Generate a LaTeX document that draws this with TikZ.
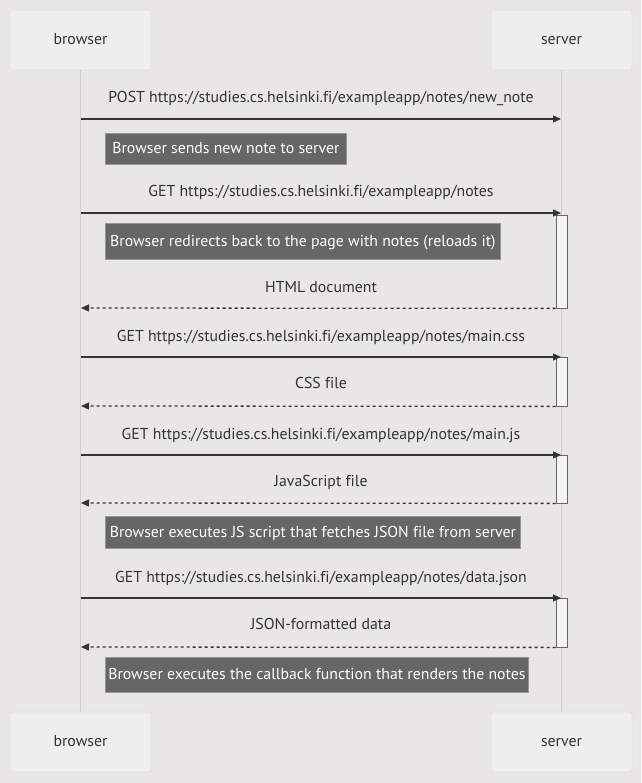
\documentclass[tikz,border=0pt]{standalone}
\usepackage{fontspec}
\setmainfont[Ligatures=NoCommon]{PT Sans}
\usetikzlibrary{arrows.meta}
\definecolor{bg}{RGB}{232,230,230}
\definecolor{actfill}{RGB}{238,238,238}
\definecolor{actline}{RGB}{214,212,212}
\definecolor{lifel}{RGB}{208,206,206}
\definecolor{ink}{RGB}{51,51,51}
\definecolor{notefill}{RGB}{102,102,102}
\definecolor{noteline}{RGB}{150,150,150}
\definecolor{activefill}{RGB}{244,244,244}
\definecolor{activeline}{RGB}{102,102,102}
\newcommand{\dfont}{\fontsize{15.8}{18}\selectfont}
\tikzset{
  actor/.style={draw=actline, fill=actfill, rounded corners=2pt, minimum width=141pt, minimum height=60pt, inner sep=0pt, font=\dfont, text=ink, text height=12.5pt, text depth=3pt},
  lifeline/.style={draw=lifel, line width=1.3pt},
  msg/.style={draw=ink, line width=1.3pt, -{Triangle[length=8pt,width=7pt]}},
  ret/.style={draw=ink, line width=1.3pt, dash pattern=on 3pt off 3pt, -{Triangle[length=8pt,width=7pt]}},
  lbl/.style={font=\dfont, text=ink, inner sep=0pt, text height=12.5pt, text depth=3pt},
  notebox/.style={draw=noteline, fill=notefill, line width=0.8pt, inner sep=0pt, anchor=north west},
  notetext/.style={text=white, font=\dfont, inner sep=0pt, text height=12.5pt, text depth=3pt},
  activation/.style={draw=activeline, fill=activefill, line width=0.8pt, minimum width=11pt, inner sep=0pt}
}
\begin{document}
\begin{tikzpicture}[x=1pt,y=-1pt]
\fill[bg] (0,0) rectangle (641,783);
\useasboundingbox (0,0) rectangle (641,783);
\node[actor] (bt) at (80.5,40) {browser};
\node[actor] (st) at (561.5,40) {server};
\node[actor] (bb) at (80.5,742) {browser};
\node[actor] (sb) at (561.5,742) {server};
\draw[lifeline] (bt.south) -- (bb.north);
\draw[lifeline] (st.south) -- (sb.north);
% activations
\node[activation, minimum height=93pt] (a1) at (561.5,261.5) {};
\node[activation, minimum height=49pt] (a2) at (561.5,381.5) {};
\node[activation, minimum height=48pt] (a3) at (561.5,479) {};
\node[activation, minimum height=49pt] (a4) at (561.5,622.5) {};
% message 1
\coordinate (m1b) at (81,119); \coordinate (m1s) at (561,119);
\node[lbl] (l1) at (321,98) {POST https://studies.cs.helsinki.fi/exampleapp/notes/new\_note};
\draw[msg] (m1b) -- (m1s);
\node[notebox, minimum width=241pt, minimum height=31pt] (n1) at (105,133) {};
\node[notetext] (t1) at (n1.center) {Browser sends new note to server};
% message 2
\coordinate (m2b) at (81,213); \coordinate (m2s) at (561,213);
\node[lbl] (l2) at (321,192) {GET https://studies.cs.helsinki.fi/exampleapp/notes};
\draw[msg] (m2b) -- (m2s);
\node[notebox, minimum width=395pt, minimum height=36pt] (n2) at (105,223) {};
\node[notetext] (t2) at (n2.center) {Browser redirects back to the page with notes (reloads it)};
\coordinate (r2b) at (81,308);
\node[lbl] (l3) at (321,288) {HTML document};
\draw[ret] (a1.south west) -- (r2b);
% message 3
\coordinate (m3b) at (81,357); \coordinate (m3s) at (561,357);
\node[lbl] (l4) at (321,337) {GET https://studies.cs.helsinki.fi/exampleapp/notes/main.css};
\draw[msg] (m3b) -- (m3s);
\coordinate (r3b) at (81,406);
\node[lbl] (l5) at (321,384) {CSS file};
\draw[ret] (a2.south west) -- (r3b);
% message 4
\coordinate (m4b) at (81,455); \coordinate (m4s) at (561,455);
\node[lbl] (l6) at (321,435) {GET https://studies.cs.helsinki.fi/exampleapp/notes/main.js};
\draw[msg] (m4b) -- (m4s);
\coordinate (r4b) at (81,503);
\node[lbl] (l7) at (321,482) {JavaScript file};
\draw[ret] (a3.south west) -- (r4b);
\node[notebox, minimum width=415pt, minimum height=32pt] (n3) at (105,516) {};
\node[notetext] (t3) at (n3.center) {Browser executes JS script that fetches JSON file from server};
% message 5
\coordinate (m5b) at (81,598); \coordinate (m5s) at (561,598);
\node[lbl] (l8) at (321,578) {GET https://studies.cs.helsinki.fi/exampleapp/notes/data.json};
\draw[msg] (m5b) -- (m5s);
\coordinate (r5b) at (81,647);
\node[lbl] (l9) at (321,625) {JSON-formatted data};
\draw[ret] (a4.south west) -- (r5b);
\node[notebox, minimum width=423pt, minimum height=35pt] (n4) at (105,657) {};
\node[notetext] (t4) at (n4.center) {Browser executes the callback function that renders the notes};
\end{tikzpicture}
\end{document}
